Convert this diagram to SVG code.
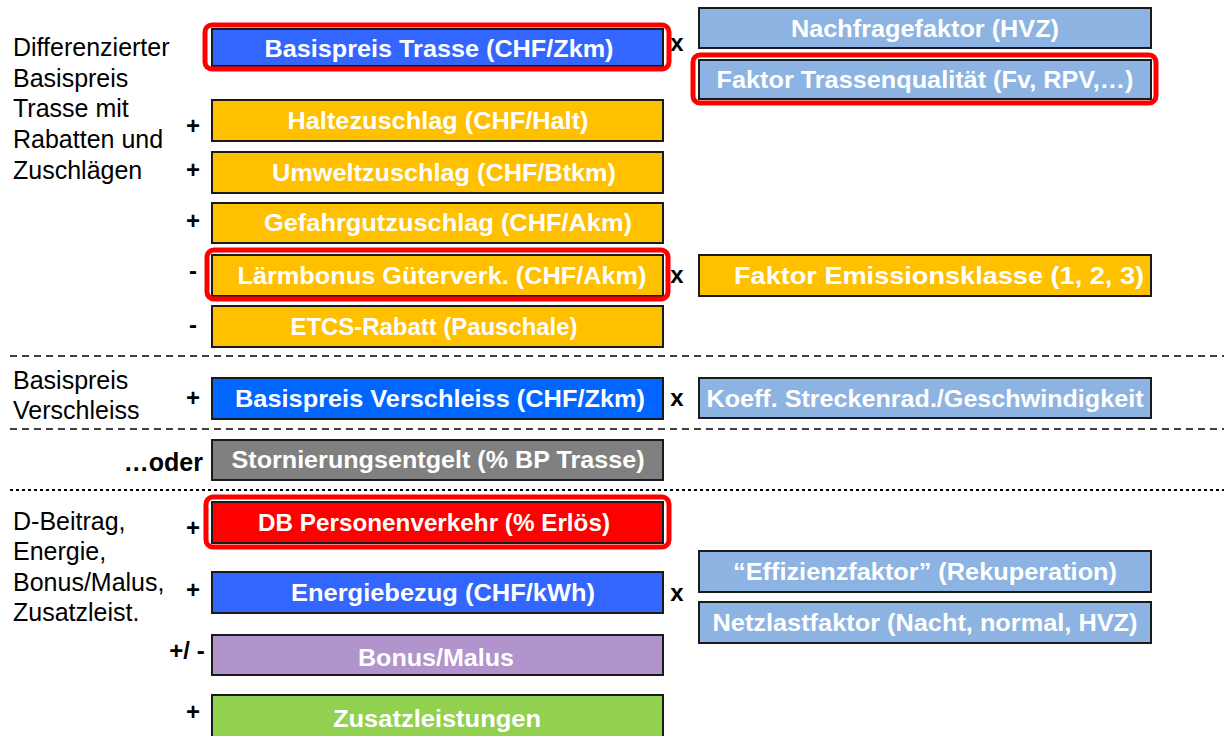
<svg xmlns="http://www.w3.org/2000/svg" width="1224" height="736" viewBox="0 0 1224 736">
<style>
.b{stroke:#1a1a1a;stroke-width:2}
.t{font-family:"Liberation Sans",Arial,sans-serif;font-weight:bold;font-size:24px;fill:#fff;text-anchor:middle}
.l{font-family:"Liberation Sans",Arial,sans-serif;font-size:25px;fill:#000}
.o{font-family:"Liberation Sans",Arial,sans-serif;font-weight:bold;font-size:24px;fill:#000;text-anchor:middle}
.hl{fill:none;stroke:#f00;stroke-width:5}
.d{stroke:#000;stroke-width:1.5;stroke-dasharray:7 5}
.d2{stroke:#000;stroke-width:2;stroke-dasharray:3 3}
</style>
<rect width="1224" height="736" fill="#fff"/>
<g id="labels">
<text class="l" x="13" y="56">Differenzierter</text>
<text class="l" x="13" y="87">Basispreis</text>
<text class="l" x="13" y="117">Trasse mit</text>
<text class="l" x="13" y="148">Rabatten und</text>
<text class="l" x="13" y="179">Zuschlägen</text>
<text class="l" x="13" y="389">Basispreis</text>
<text class="l" x="13" y="419">Verschleiss</text>
<text class="o" x="203" y="471" style="text-anchor:end;font-size:25px">…oder</text>
<text class="l" x="13" y="530">D-Beitrag,</text>
<text class="l" x="13" y="560">Energie,</text>
<text class="l" x="13" y="591">Bonus/Malus,</text>
<text class="l" x="13" y="621">Zusatzleist.</text>
</g>
<g id="connectors">
<line class="d" x1="10" y1="356" x2="1224" y2="356"/>
<line class="d" x1="10" y1="429" x2="1224" y2="429"/>
<line class="d2" x1="10" y1="490" x2="1224" y2="490"/>
</g>
<g id="operators">
<text class="o" x="677" y="51">x</text>
<text class="o" x="193" y="134">+</text>
<text class="o" x="193" y="178">+</text>
<text class="o" x="193" y="229">+</text>
<text class="o" x="193" y="279">-</text>
<text class="o" x="677" y="283">x</text>
<text class="o" x="193" y="333">-</text>
<text class="o" x="193" y="406">+</text>
<text class="o" x="677" y="406">x</text>
<text class="o" x="193" y="536">+</text>
<text class="o" x="193" y="598">+</text>
<text class="o" x="677" y="601">x</text>
<text class="o" x="187" y="659">+/ -</text>
<text class="o" x="193" y="720">+</text>
</g>
<g id="n-basispreis-trasse">
<rect class="b" x="212" y="29" width="451" height="37" fill="#3366ff"/>
<text class="t" x="439" y="57" textLength="349" lengthAdjust="spacingAndGlyphs">Basispreis  Trasse (CHF/Zkm)</text>
<rect class="hl" x="205" y="25" width="464" height="44" rx="7"/>
</g>
<g id="n-nachfrage">
<rect class="b" x="699" y="8" width="452" height="40" fill="#8db3e2"/>
<text class="t" x="925" y="37" textLength="268" lengthAdjust="spacingAndGlyphs">Nachfragefaktor (HVZ)</text>
</g>
<g id="n-trassenqualitaet">
<rect class="b" x="699" y="60" width="452" height="39" fill="#8db3e2"/>
<text class="t" x="925" y="88" textLength="417" lengthAdjust="spacingAndGlyphs">Faktor Trassenqualität (Fv, RPV,…)</text>
<rect class="hl" x="693" y="55" width="463" height="48" rx="7"/>
</g>
<g id="n-halte">
<rect class="b" x="212" y="100" width="451" height="41" fill="#ffc000"/>
<text class="t" x="438" y="129" textLength="301" lengthAdjust="spacingAndGlyphs">Haltezuschlag (CHF/Halt)</text>
</g>
<g id="n-umwelt">
<rect class="b" x="212" y="152" width="451" height="41" fill="#ffc000"/>
<text class="t" x="444" y="181" textLength="344" lengthAdjust="spacingAndGlyphs">Umweltzuschlag (CHF/Btkm)</text>
</g>
<g id="n-gefahrgut">
<rect class="b" x="212" y="203" width="451" height="40" fill="#ffc000"/>
<text class="t" x="448" y="231" textLength="368" lengthAdjust="spacingAndGlyphs">Gefahrgutzuschlag (CHF/Akm)</text>
</g>
<g id="n-laermbonus">
<rect class="b" x="212" y="255" width="451" height="41" fill="#ffc000"/>
<text class="t" x="442" y="284" textLength="409" lengthAdjust="spacingAndGlyphs">Lärmbonus Güterverk. (CHF/Akm)</text>
<rect class="hl" x="207" y="250" width="461" height="49" rx="7"/>
</g>
<g id="n-emission">
<rect class="b" x="699" y="255" width="452" height="41" fill="#ffc000"/>
<text class="t" x="939" y="284" textLength="410" lengthAdjust="spacingAndGlyphs">Faktor Emissionsklasse (1, 2, 3)</text>
</g>
<g id="n-etcs">
<rect class="b" x="212" y="306" width="451" height="41" fill="#ffc000"/>
<text class="t" x="434" y="335" textLength="287" lengthAdjust="spacingAndGlyphs">ETCS-Rabatt (Pauschale)</text>
</g>
<g id="n-verschleiss">
<rect class="b" x="212" y="378" width="451" height="41" fill="#0066ff"/>
<text class="t" x="440" y="407" textLength="410" lengthAdjust="spacingAndGlyphs">Basispreis Verschleiss (CHF/Zkm)</text>
</g>
<g id="n-koeff">
<rect class="b" x="699" y="378" width="452" height="40" fill="#8db3e2"/>
<text class="t" x="925" y="407" textLength="437" lengthAdjust="spacingAndGlyphs">Koeff. Streckenrad./Geschwindigkeit</text>
</g>
<g id="n-storno">
<rect class="b" x="212" y="440" width="451" height="40" fill="#808080"/>
<text class="t" x="438" y="468" textLength="413" lengthAdjust="spacingAndGlyphs">Stornierungsentgelt (% BP Trasse)</text>
</g>
<g id="n-db">
<rect class="b" x="212" y="502" width="451" height="41" fill="#ff0000"/>
<text class="t" x="434" y="531" textLength="352" lengthAdjust="spacingAndGlyphs">DB Personenverkehr (% Erlös)</text>
<rect class="hl" x="206" y="497" width="463" height="50" rx="7"/>
</g>
<g id="n-effizienz">
<rect class="b" x="699" y="551" width="452" height="41" fill="#8db3e2"/>
<text class="t" x="925" y="580" textLength="384" lengthAdjust="spacingAndGlyphs">“Effizienzfaktor” (Rekuperation)</text>
</g>
<g id="n-energie">
<rect class="b" x="212" y="572" width="451" height="41" fill="#3366ff"/>
<text class="t" x="443" y="601" textLength="304" lengthAdjust="spacingAndGlyphs">Energiebezug (CHF/kWh)</text>
</g>
<g id="n-netzlast">
<rect class="b" x="699" y="602" width="452" height="41" fill="#8db3e2"/>
<text class="t" x="925" y="631" textLength="425" lengthAdjust="spacingAndGlyphs">Netzlastfaktor (Nacht, normal, HVZ)</text>
</g>
<g id="n-bonus">
<rect class="b" x="212" y="635" width="451" height="40" fill="#b294cc"/>
<text class="t" x="436" y="666" textLength="156" lengthAdjust="spacingAndGlyphs">Bonus/Malus</text>
</g>
<g id="n-zusatz">
<rect class="b" x="212" y="695" width="451" height="45" fill="#92d050"/>
<text class="t" x="437" y="727" textLength="208" lengthAdjust="spacingAndGlyphs">Zusatzleistungen</text>
</g>
</svg>
